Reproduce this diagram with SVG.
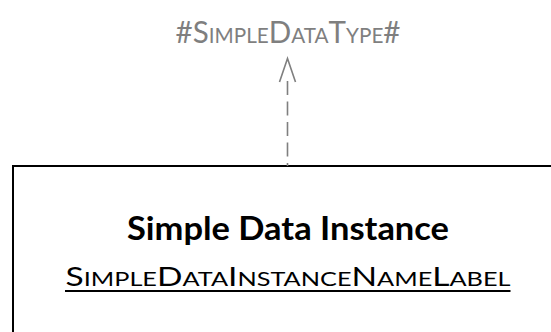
<svg xmlns="http://www.w3.org/2000/svg" width="551" height="332" viewBox="0 0 551 332">
  <style>
    .type { font-family: Lato, "Liberation Sans", sans-serif; fill: #7f7f7f; }
    .title { font-family: Lato, "Liberation Sans", sans-serif; font-weight: bold; font-size: 32px; fill: #000; }
    .label { font-family: Lato, "Liberation Sans", sans-serif; fill: #000; }
    .box { fill: #fff; stroke: #000; stroke-width: 2; }
    .dep { fill: none; stroke: #7f7f7f; stroke-width: 1.6; stroke-dasharray: 14 6.5; }
    .head { fill: none; stroke: #7f7f7f; stroke-width: 1.6; }
  </style>
  <rect width="551" height="332" fill="#fff"/>
  <g id="node-simple-data-type">
    <text class="type" x="288" y="43" text-anchor="middle" textLength="225" lengthAdjust="spacingAndGlyphs"><tspan font-size="30">#S</tspan><tspan font-size="21">IMPLE</tspan><tspan font-size="30">D</tspan><tspan font-size="21">ATA</tspan><tspan font-size="30">T</tspan><tspan font-size="21">YPE</tspan><tspan font-size="30">#</tspan></text>
  </g>
  <g id="node-simple-data-instance">
    <rect class="box" x="13" y="166" width="600" height="300"/>
    <text class="title" x="288" y="240" text-anchor="middle" textLength="322" lengthAdjust="spacingAndGlyphs">Simple Data Instance</text>
    <text class="label" x="288" y="286" text-anchor="middle" textLength="445" lengthAdjust="spacingAndGlyphs"><tspan font-size="26.5">S</tspan><tspan font-size="20">IMPLE</tspan><tspan font-size="26.5">D</tspan><tspan font-size="20">ATA</tspan><tspan font-size="26.5">I</tspan><tspan font-size="20">NSTANCE</tspan><tspan font-size="26.5">N</tspan><tspan font-size="20">AME</tspan><tspan font-size="26.5">L</tspan><tspan font-size="20">ABEL</tspan></text>
    <line x1="65" y1="291" x2="510.5" y2="291" stroke="#000" stroke-width="1.8"/>
  </g>
  <g id="connectors">
    <line class="dep" x1="287.5" y1="81" x2="287.5" y2="166"/>
    <polyline class="head" points="279.5,82 287.5,58.5 295.5,82"/>
  </g>
</svg>
